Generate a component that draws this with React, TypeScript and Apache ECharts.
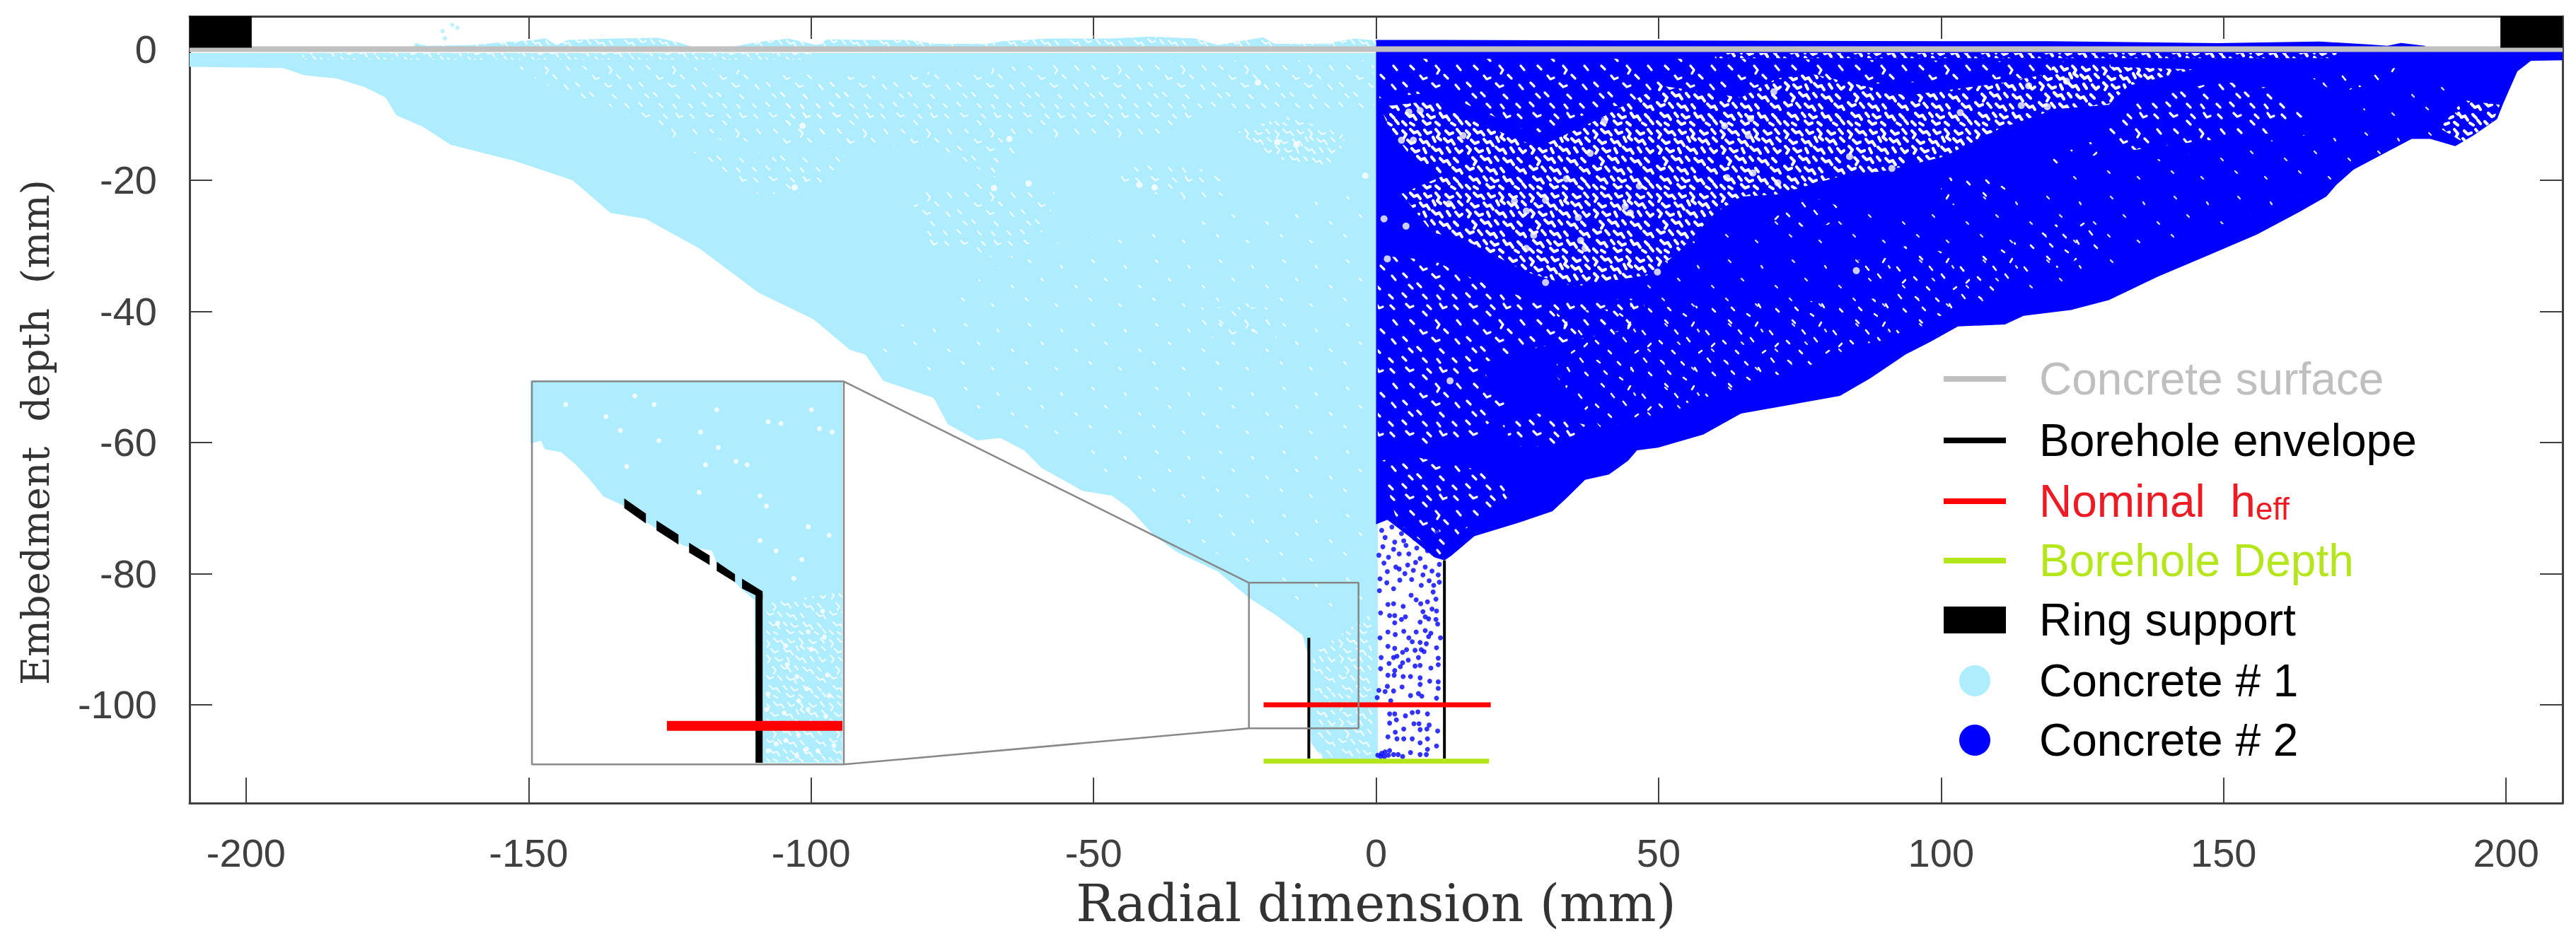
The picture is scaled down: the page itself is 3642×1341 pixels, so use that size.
import React, { useEffect, useRef } from "react";
import * as echarts from "echarts";

const xTicks = [-200, -150, -100, -50, 0, 50, 100, 150, 200];
const yTicks = [0, -20, -40, -60, -80, -100];

const concrete1Outline = [[-210,-0.6],[0.3,-0.6],[0.3,-108.3],[-9.4,-108.3],[-11.5,-105.8],[-12,-92.6],[-13,-89.4],[-17.6,-86.4],[-22.5,-83.7],[-28,-79.7],[-35.3,-76.7],[-39.5,-74],[-43.7,-70],[-46.8,-68.1],[-51.9,-67.4],[-59.2,-63.9],[-62.3,-61.2],[-66.5,-59.3],[-70.6,-59.7],[-75.8,-57.2],[-78.3,-53.2],[-87.2,-50.6],[-90.4,-46.6],[-93.1,-45.9],[-99.6,-41.2],[-109.2,-37.2],[-119.8,-30.4],[-129.3,-25.9],[-135.5,-25],[-142.2,-20],[-152.3,-17.1],[-163.8,-14.6],[-168.6,-11.9],[-173.4,-10.1],[-175.3,-7.4],[-179,-5.8],[-184,-4.5],[-189.6,-4],[-193.5,-2.9],[-210,-2.7]];
const concrete1Fringe = [[-171,0],[-170,0.9],[-168,0.5],[-160,0.6],[-155,1],[-150,1.3],[-147,1.6],[-145,0.6],[-143,1.4],[-135,1.6],[-127,1.7],[-123,0.9],[-121,0.3],[-114,0.3],[-110,1],[-104,1.6],[-99,0.6],[-97,1.5],[-90,1.4],[-83,1.4],[-78,0.8],[-69,0.8],[-66,1.2],[-58,1.6],[-47,1.6],[-40,1.9],[-32,1.6],[-28,0.6],[-20,1.8],[-18,0.8],[-9,0.8],[-4,1.6],[0,1.3],[0,0]];
const concrete2Outline = [[0,-0.4],[210,-0.4],[210,-1.7],[204.4,-1.8],[202,-3.4],[199.6,-8.1],[198.4,-10.7],[194.2,-13.2],[191,-14.8],[186.6,-13.7],[183.3,-13.7],[178.9,-15.7],[173,-18.4],[170,-20.7],[168.2,-22.5],[163.5,-24.8],[155.9,-28.3],[147.2,-31.5],[138.4,-34.7],[129.7,-38.3],[123,-39.8],[114.6,-40.7],[111.3,-42],[103,-42.3],[98,-44.7],[93.7,-46.6],[87.5,-50.2],[82.1,-52.9],[64.6,-55.6],[57.9,-58.8],[49.9,-60.8],[46.2,-61.2],[44.6,-62.8],[41.2,-64.9],[37,-65.7],[33.7,-68.5],[31.2,-70.5],[25.4,-72.2],[17.4,-74.3],[13.3,-77.3],[12.1,-78],[10.3,-77.5],[5.8,-74.3],[2,-71.8],[0,-72.5]];
const concrete2Fringe = [[0,0],[0,1.4],[50,1.3],[100,1.2],[119,1.2],[149,0.9],[167,1.15],[176,0.7],[179,0.5],[181.4,0.93],[185.6,0.5],[186,0]];

const sparseDots2 = [[1,-73.4],[2.8,-72.9],[4.5,-73.9],[6.4,-73.8],[8.1,-75],[10.8,-73.6],[1.6,-74.5],[3.3,-75.2],[4.9,-75],[6.8,-74.6],[1.2,-75.9],[3.1,-76.3],[5.3,-75.7],[7.2,-76.1],[9.1,-76.5],[10.8,-75.4],[0.5,-77.2],[2.2,-77.5],[4.1,-77],[5.8,-77],[7.8,-77.7],[1.4,-78.4],[3.5,-79],[5.6,-78.7],[7,-78.3],[8.7,-79],[11.2,-78.6],[2,-79.7],[4.1,-79.3],[5.1,-80],[6.6,-79.5],[8.3,-80.2],[9.9,-79.6],[11,-80.2],[0.7,-80.8],[1.9,-81.4],[4.2,-81],[6.3,-80.9],[8,-81.8],[9.4,-81.1],[11.2,-81.3],[10.2,-81.8],[0.6,-82.6],[3.1,-82.3],[10.1,-82.8],[6.2,-83.3],[7.1,-84],[9.1,-84.3],[10.6,-83.9],[2.1,-84.7],[3.1,-84.6],[4.8,-85],[7.9,-84.6],[9.9,-85.4],[10.7,-85.7],[8.3,-85.8],[0.8,-86],[2.4,-86.4],[3.3,-86.4],[5.2,-86.6],[4.5,-87],[8.7,-86.6],[9.3,-86.9],[10.6,-87],[7.8,-87.4],[3.3,-87.5],[10.9,-87.7],[2.1,-88.9],[4.9,-88.8],[7.1,-88.9],[8.7,-88.7],[3.4,-89.3],[9.7,-89.1],[9.3,-89.6],[0.7,-89.8],[5.8,-89.8],[11.4,-89.8],[6.4,-90.4],[7.8,-90.5],[8.9,-90.7],[2.1,-91.1],[3.3,-91.4],[10.7,-91.3],[5.4,-91.6],[4.7,-92],[6.9,-91.7],[8,-91.6],[8.5,-91.9],[3.7,-92.6],[3.1,-92.8],[0.9,-92.8],[7.5,-92.8],[5.7,-93.2],[11,-92.9],[2.3,-93.7],[4.7,-93.6],[4.3,-94.2],[6.9,-94.1],[7.8,-94],[9.7,-94.4],[11,-93.9],[0.8,-94.5],[3.3,-94.8],[2.1,-95.5],[3.2,-95.5],[4.8,-95.7],[6.1,-95.7],[7.8,-95.9],[9.5,-96.4],[11,-96.5],[7.8,-96.9],[4.6,-97.3],[2,-97.2],[0.5,-97.8],[1.6,-98],[3.1,-97.9],[11,-97.5],[7.5,-98.3],[6.1,-98.6],[8.1,-98.7],[10.7,-99],[0.2,-98.9],[2.6,-99.4],[2.4,-101.4],[3.3,-101.4],[6.4,-101.2],[7.4,-101.1],[9.1,-101.4],[5.2,-101.7],[3.6,-102.3],[2.4,-102.8],[6.7,-102.9],[7.6,-102.9],[9.4,-103.1],[4.9,-103.7],[7.8,-103.8],[9,-103.7],[10.9,-104],[3.4,-104.2],[2.1,-104.9],[3.7,-105.2],[4.9,-105.2],[6.4,-105.2],[9.1,-105.2],[7.8,-105.8],[10.7,-106.3],[9.1,-106.8],[8.9,-107.6],[7.8,-107.6],[6.1,-107.3],[0.3,-107.7],[1,-107.4],[1.6,-107.2],[2.4,-107],[2.2,-107.7],[3.1,-107.6],[3.9,-107.6],[4.7,-107.9],[0.8,-107.9],[1.5,-107.9]];
const strayPoints1 = [[-163.5,3.67],[-162.6,3.24],[-165.2,2.73],[-164.8,1.65]];

const poreBlobs2 = [[5.8,-9.6],[7.8,-9.4],[15.4,-13.2],[4.5,-13.9],[6.6,-13.9],[24.5,-23.2],[26.6,-24.7],[30,-23.05],[44.1,-24],[45,-25],[35.8,-25.7],[36.2,-29.2],[37,-30.4],[27.9,-28.4],[26.6,-30.4],[13.1,-50.6],[12.9,-23.6],[37.9,-15.9],[33.7,-19.8],[40.4,-11],[46.6,-20.9],[62.1,-19.6],[61.7,-11.7],[2,-32],[1.4,-25.9],[5.3,-27],[49.8,-34],[30,-35.6],[65.9,-13.2],[83.8,-16.4],[115.5,-5.6],[122.2,-4.9],[70.4,-6.5],[71.1,-20.4],[85,-33.8],[66.7,-18.9],[103.4,-9.7],[118.8,-8.8],[91.3,-18.2],[114.2,-8.6],[66.3,-10.6]];
const poreBlobs1 = [[-64.9,-13.7],[-101.5,-11.7],[-20.9,-5.1],[-41.9,-20.7],[-39.2,-21.1],[-67.6,-21.2],[-61.5,-20.5],[-102.9,-21.1],[-17.5,-14.2],[-14.1,-14.6],[-1.9,-19.3]];

const blueHeavyZones = [
  [[0.75,-8.8],[11.2,-7.8],[20.4,-12.1],[28.7,-15],[39.6,-10.6],[50.4,-5.6],[64.6,-7.4],[70.9,-4.5],[77.1,-3.8],[93.8,-7.1],[110.5,-5.2],[123,-3.1],[129.7,-5.6],[118.8,-9.6],[110.5,-12.1],[100.5,-16.4],[90.5,-18.5],[81.3,-19.6],[70.9,-22.2],[64.6,-22.5],[60,-25],[53.7,-30.8],[48.7,-34.4],[35,-36.2],[26.6,-34],[17,-29.7],[9.9,-27.9],[4.5,-22.1],[12,-19.3],[5.8,-16],[2,-11.4]],
  [[119.6,-2.4],[144.5,-3.1],[133.2,-5.6],[129.7,-8.5],[119.6,-9.2]],
  [[188.3,-12.1],[192.4,-7.8],[198.9,-8.5],[197.7,-11],[192.4,-14.2]],
  [[60,-0.6],[170,-0.6],[170,-1.4],[60,-1.4]],
];
const blueMediumZones = [
  [[0.3,-1.5],[64,-1.5],[130,-2],[130,-4],[64.6,-6],[40,-9],[28,-13],[11,-6.5],[0.6,-7.5]],
  [[0.3,-31.5],[9.9,-32.2],[17.4,-35.1],[28.7,-38.7],[47.5,-38],[47.5,-42.3],[26.6,-45.9],[19.5,-47.7],[19.5,-51.3],[23.7,-53.8],[16.2,-60.3],[2,-60.3],[0.3,-60]],
  [[0.75,-62.8],[5.8,-62],[20.4,-64.6],[24.1,-67.8],[19.1,-71.4],[15,-73.6],[11.2,-77.2],[3.7,-72.1]],
  [[22.4,-57.4],[28.7,-55.6],[37.5,-57.4],[32.9,-60.6],[24.5,-60.6]],
  [[128.5,-11.7],[135.6,-7.8],[149.2,-4.9],[158.7,-6],[164,-10.3],[158.7,-12.8],[144.5,-14.2],[131.4,-15.7]],
];
const blueLightZones = [
  [[82.1,-33],[93.8,-30],[109.7,-32.2],[100.1,-35.8],[89.6,-36.2]],
  [[68.8,-25],[77.1,-22.5],[83,-24.3],[80,-26.8],[69.2,-27.5]],
  [[100,-19.6],[112.6,-19.6],[111.3,-22.5],[100,-23.2]],
  [[116.8,-17.5],[128.4,-13.5],[128.4,-16],[118.8,-17.8]],
  [[165.8,-4.5],[184.7,-2.4],[181.8,-4.2],[169.9,-6.7]],
  [[32,-40],[90,-38],[125,-25],[130,-30],[85,-46],[40,-58],[32,-50]],
];
const blueFaintZones = [
  [[45,-36],[60,-27],[100,-24],[130,-18],[165,-13],[190,-3],[195,-10],[165,-22],[120,-36],[90,-44],[65,-52],[45,-58]],
];
const paleMediumZones = [
  [[-24.9,-12.4],[-15.4,-10.3],[-5.3,-13.2],[-7.3,-17.8],[-17.5,-16.8]],
  [[-11.3,-92.3],[-0.7,-86],[-0.7,-108],[-10,-108]],
  [[-171,0.3],[0,0.3],[0,2],[-171,2]],
  [[-190,-0.6],[-100,-0.6],[-100,-1.6],[-190,-1.6]],
];
const paleLightZones = [
  [[-105.6,-6.3],[-92,-4.2],[-64.9,-2.7],[-48,-2],[-31,-1.7],[-0.4,-1.7],[-0.4,-9.2],[-31,-9.2],[-37.8,-13.5],[-61.5,-13.5],[-67.6,-19.6],[-77.1,-15],[-95.4,-14.6],[-105.6,-11.4]],
  [[-45.9,-19.3],[-41.2,-17.1],[-29,-18.6],[-24.9,-22.2],[-34.4,-22.9],[-43.2,-21.4]],
  [[-82.5,-21.8],[-70.3,-20.4],[-56.8,-21.4],[-58.1,-27.2],[-64.9,-32.2],[-79.8,-30.1]],
  [[-152.3,-2.7],[-128.3,-2.4],[-93.1,-4.2],[-93.1,-15],[-109.2,-14.2],[-124.5,-13.5],[-136,-8.5],[-143.7,-7]],
  [[-121.6,-15.7],[-93.9,-16],[-97.7,-21.8],[-109.2,-22.2]],
  [[-31,-39.4],[-17.5,-39.4],[-17.5,-44],[-31,-44]],
];
const paleFaintZones = [
  [[-90,-45],[-60,-30],[-2,-22],[-2,-85],[-12,-85],[-30,-76],[-46,-66],[-68,-57],[-78,-50]],
];

const concreteSurface = [[-210,0],[210,0]];
const boreholeLeft = [[-11.9,-89.8],[-11.9,-108.2]];
const boreholeRight = [[12.1,-78],[12.1,-108.2]];
const nominalHeff = [[-19.9,-100],[20.3,-100]];
const boreholeDepth = [[-19.9,-108.6],[20,-108.6]];
const ringSupports = [
  [[-210,5],[-199,5],[-199,0.2],[-210,0.2]],
  [[199,5],[210,5],[210,0.2],[199,0.2]],
];
const zoomBox = [[-22.5,-81.4],[-3.1,-81.4],[-3.1,-103.6],[-22.5,-103.6],[-22.5,-81.4]];
const insetBox = [[-149.4,-50.7],[-94.2,-50.7],[-94.2,-109.1],[-149.4,-109.1],[-149.4,-50.7]];
const guideTop = [[-94.2,-50.7],[-22.5,-81.4]];
const guideBottom = [[-94.2,-109.1],[-22.5,-103.6]];

const insetXRange = [-26.1, -6.67];
const insetYRange = [-102.2, -80];
const insetConcrete = [[-26.1,-80],[-6.67,-80],[-6.67,-102.2],[-12.08,-102.2],[-12.08,-102.07],[-12.15,-92.75],[-13.03,-92.04],[-14.5,-90.6],[-14.8,-89.89],[-16.56,-89.6],[-18.76,-88.31],[-20.23,-87.31],[-21.55,-86.74],[-22.43,-85.73],[-23.3,-84.87],[-24.2,-84.16],[-25.2,-84],[-25.44,-83.51],[-26.03,-83.65],[-26.1,-83.65]];
const insetPores = [[-23.9,-81.4],[-21.4,-82.1],[-20.5,-82.9],[-19.6,-80.9],[-18.4,-81.4],[-15.5,-83],[-18.1,-83.5],[-14.5,-81.7],[-8.6,-81.7],[-8.1,-82.8],[-7.3,-83],[-11.3,-82.4],[-10.5,-82.5],[-13.3,-84.7],[-15.2,-84.9],[-20.1,-85],[-11.8,-86.7],[-11.4,-87.3],[-8.8,-88.5],[-11.8,-89.3],[-10.8,-89.9],[-9.2,-90.4],[-7.5,-89],[-15.6,-86.5],[-14.4,-83.9],[-12.6,-84.9],[-9.7,-91.5],[-7.9,-93.4],[-10.7,-94.1],[-8.8,-94.6],[-7.8,-94.9],[-10.2,-95.4],[-8.6,-95.6],[-10.1,-96.5],[-9.5,-97.2],[-7.6,-97.1],[-8.9,-97.9],[-9.4,-98.6],[-7.5,-98.3],[-10.3,-99.3],[-8.8,-99.1],[-7.7,-99.5],[-11.3,-98.2],[-11.4,-99.1],[-10.2,-100.9],[-10.8,-101.1],[-9.4,-100.6],[-11.3,-101.5],[-9.5,-101.8],[-8.2,-101.5],[-7.2,-101.2],[-8.9,-101.4]];
const insetPoreZones = [[[-11.4,-92.9],[-6.7,-92.3],[-6.7,-102.2],[-11.4,-102.2]]];
const insetDashes = [
  [[-20.26,-86.85],[-18.91,-87.74],[-18.91,-88.31],[-20.26,-87.42]],
  [[-18.25,-88.14],[-16.88,-88.96],[-16.88,-89.53],[-18.25,-88.71]],
  [[-16.22,-89.43],[-14.94,-90.17],[-14.94,-90.72],[-16.22,-90]],
  [[-14.5,-90.53],[-13.36,-91.25],[-13.36,-91.72],[-14.5,-91.06]],
  [[-12.92,-91.51],[-11.64,-92.25],[-11.64,-92.68],[-12.92,-92.08]],
];
const insetBorehole = [[-11.86,-92.4],[-11.86,-102.2]];
const insetHeff = [[-17.6,-100.06],[-6.67,-100.06]];

const legendNames = ["Concrete surface","Borehole envelope","Nominal heff","Borehole Depth","Ring support","Concrete # 1","Concrete # 2"];
const legendColors = ["#BFBFBF","#000000","#ED1C24","#B5E61D","#000000","#000000","#000000"];

const heavyTile = [[3,5,8,10,5,15],[14,3,19,8,24,6,28,11],[34,4,38,9,43,7],[50,3,55,9,52,14,57,18],[64,5,69,10,74,8],[80,3,85,9],[10,18,15,23,20,21],[28,17,32,22,37,20,41,26],[46,14,49,20],[62,16,67,21,72,18,76,24],[82,15,87,20],[4,27,9,32,6,37],[16,30,21,35,26,33],[33,30,36,36],[45,28,50,33,55,31,59,37],[66,29,70,35],[78,30,83,36,87,33],[12,43,17,48,14,53],[24,41,29,46,34,44,38,50],[44,42,48,47],[56,44,61,49,66,47,70,53],[76,44,81,49],[3,55,8,60,13,58],[20,56,25,62],[32,57,37,62,42,60,46,66],[52,58,56,63],[74,57,79,62,84,60,87,65],[8,70,13,75,18,73,22,79],[28,70,32,75],[38,72,43,77,48,75],[56,70,60,76,65,74,69,80],[76,72,81,77],[3,82,8,87],[14,84,19,87],[32,81,37,86,42,84],[50,83,55,87],[72,84,77,87],[83,80,87,85]];
const mediumTile = [[14,3,19,8],[50,3,55,9,52,14],[80,3,85,9],[28,17,32,22,37,20],[62,16,67,21],[4,27,9,32],[45,28,50,33,55,31],[78,30,83,36],[24,41,29,46],[56,44,61,49],[12,43,17,48],[3,55,8,60],[32,57,37,62],[74,57,79,62],[52,58,56,63],[8,70,13,75,18,73],[38,72,43,77],[56,70,60,76,65,74],[76,72,81,77],[32,81,37,86]];
const lightTile = [[14,3,18,7],[55,6,52,11],[28,17,32,22],[72,18,76,23],[6,32,10,36],[45,28,49,33],[84,36,80,40],[24,46,28,50],[62,49,66,46],[8,60,12,63],[37,62,41,66],[74,57,78,62],[18,75,22,79],[56,70,59,75],[81,77,85,81],[40,84,44,87]];
const faintTile = [[14,8,17,11],[60,16,62,19],[32,34,35,37],[80,44,83,47],[10,62,13,65],[52,70,55,73]];

function makeTile(strokes: number[][], width: number, alpha: number) {
  const canvas = document.createElement("canvas");
  canvas.width = 90;
  canvas.height = 90;
  const ctx = canvas.getContext("2d")!;
  ctx.strokeStyle = `rgba(255,255,255,${alpha})`;
  ctx.lineWidth = width;
  ctx.lineCap = "round";
  ctx.lineJoin = "round";
  strokes.forEach((s) => {
    ctx.beginPath();
    ctx.moveTo(s[0], s[1]);
    for (let i = 2; i < s.length; i += 2) ctx.lineTo(s[i], s[i + 1]);
    ctx.stroke();
  });
  return { image: canvas, repeat: "repeat", imageWidth: 90, imageHeight: 90 };
}

const polySeries = (name: string, polys: number[][][], fill: any, z: number, grid = 0) => ({
  type: "custom",
  name,
  coordinateSystem: "cartesian2d",
  xAxisIndex: grid ? 2 : 0,
  yAxisIndex: grid ? 2 : 0,
  z,
  clip: true,
  silent: true,
  itemStyle: { color: typeof fill === "string" ? fill : "#fff" },
  data: polys.map((p) => p[0]),
  renderItem: (params: any, api: any) => ({
    type: "polygon",
    shape: { points: polys[params.dataIndex].map((p) => api.coord(p)) },
    style: { fill },
  }),
});

const lineSeries = (name: string, data: number[][], color: string, width: number, z: number, grid = 0) => ({
  type: "line",
  name,
  xAxisIndex: grid ? 2 : 0,
  yAxisIndex: grid ? 2 : 0,
  z,
  data,
  showSymbol: false,
  symbol: "none",
  silent: true,
  itemStyle: { color },
  lineStyle: { color, width, cap: "butt" },
});

const dotSeries = (name: string, data: number[][], color: string, size: number, z: number, grid = 0) => ({
  type: "scatter",
  name,
  xAxisIndex: grid ? 2 : 0,
  yAxisIndex: grid ? 2 : 0,
  z,
  data,
  symbolSize: size,
  silent: true,
  itemStyle: { color },
});

export default function App() {
  const ref = useRef<HTMLDivElement>(null);
  useEffect(() => {
    document.body.style.margin = "0";
    const chart = echarts.init(ref.current!, null, { renderer: "svg" });
    const heavy = makeTile(heavyTile, 4.2, 1);
    const medium = makeTile(mediumTile, 3.4, 1);
    const light = makeTile(lightTile, 2.6, 1);
    const faint = makeTile(faintTile, 2.4, 0.85);
    const paleMedium = makeTile(heavyTile, 2.4, 0.8);
    const paleLight = makeTile(mediumTile, 2.4, 0.8);
    const axisColor = "#404040";
    const labelFont = { fontFamily: "Liberation Sans", fontSize: 56, color: "#404040" };
    const serifName = { fontFamily: "DejaVu Serif", color: "#333333" };
    const legendIconY = [536, 623, 709, 793, 877, 963, 1047];
    const legendIconH = [8, 8, 8, 8, 38, 44, 44];
    chart.setOption({
      animation: false,
      backgroundColor: "#ffffff",
      grid: [
        { left: 268, top: 23, width: 3355, height: 1113, show: false },
        { left: 750, top: 538, width: 441, height: 541, show: false },
      ],
      xAxis: [
        {
          type: "value", gridIndex: 0, position: "bottom", min: -210, max: 210,
          name: "Radial dimension (mm)", nameLocation: "middle", nameGap: 106, nameTextStyle: { ...serifName, fontSize: 72 },
          axisLine: { onZero: false, lineStyle: { color: axisColor, width: 3 } },
          axisTick: { inside: true, length: 36, customValues: xTicks, lineStyle: { color: axisColor, width: 2 } },
          axisLabel: { customValues: xTicks, margin: 42, ...labelFont },
          splitLine: { show: false },
        },
        {
          type: "value", gridIndex: 0, position: "top", min: -210, max: 210,
          axisLine: { onZero: false, lineStyle: { color: axisColor, width: 3 } },
          axisTick: { inside: true, length: 32, customValues: xTicks, lineStyle: { color: axisColor, width: 2 } },
          axisLabel: { show: false },
          splitLine: { show: false },
        },
        { type: "value", gridIndex: 1, min: insetXRange[0], max: insetXRange[1], show: false, splitLine: { show: false } },
      ],
      yAxis: [
        {
          type: "value", gridIndex: 0, position: "left", min: -115, max: 5,
          name: "Embedment  depth  (mm)", nameLocation: "middle", nameGap: 191, nameRotate: 90,
          nameTextStyle: { ...serifName, fontSize: 55, padding: [0, 64, 0, 0] },
          axisLine: { onZero: false, lineStyle: { color: axisColor, width: 3 } },
          axisTick: { inside: true, length: 32, customValues: yTicks, lineStyle: { color: axisColor, width: 2 } },
          axisLabel: { customValues: yTicks, margin: 46, ...labelFont },
          splitLine: { show: false },
        },
        {
          type: "value", gridIndex: 0, position: "right", min: -115, max: 5,
          axisLine: { onZero: false, lineStyle: { color: axisColor, width: 3 } },
          axisTick: { inside: true, length: 32, customValues: yTicks, lineStyle: { color: axisColor, width: 2 } },
          axisLabel: { show: false },
          splitLine: { show: false },
        },
        { type: "value", gridIndex: 1, min: insetYRange[0], max: insetYRange[1], show: false, splitLine: { show: false } },
      ],
      legend: legendNames.map((name, i) => ({
        show: true,
        left: i < 5 ? 2748 : 2770,
        top: legendIconY[i] - 32,
        padding: 0,
        orient: "vertical",
        selectedMode: false,
        itemWidth: 88,
        itemHeight: legendIconH[i],
        data: [{ name, icon: i < 5 ? "rect" : "circle" }],
        formatter: i === 2 ? () => "Nominal  h{sub|eff}" : undefined,
        textStyle: {
          fontFamily: "Liberation Sans",
          fontSize: 64,
          color: legendColors[i],
          padding: [0, 0, 0, 42],
          rich: { sub: { fontFamily: "Liberation Sans", fontSize: 44, color: legendColors[i], verticalAlign: "bottom", lineHeight: 60 } },
        },
      })),
      series: [
        polySeries("Concrete # 1", [concrete1Outline, concrete1Fringe], "#AEECFF", 2),
        polySeries("pale medium pores", paleMediumZones, paleMedium, 3),
        polySeries("pale light pores", paleLightZones, paleLight, 3),
        polySeries("pale faint pores", paleFaintZones, faint, 3),
        dotSeries("pale blobs", poreBlobs1, "#ffffff", 9, 4),
        dotSeries("stray concrete 1", strayPoints1, "#AEECFF", 6, 4),
        polySeries("Concrete # 2", [concrete2Outline, concrete2Fringe], "#0000FF", 2),
        polySeries("blue heavy pores", blueHeavyZones, heavy, 3),
        polySeries("blue medium pores", blueMediumZones, medium, 3),
        polySeries("blue light pores", blueLightZones, light, 3),
        polySeries("blue faint pores", blueFaintZones, faint, 3),
        dotSeries("blue blobs", poreBlobs2, "#ffffff", 10, 4),
        dotSeries("Concrete # 2 sparse", sparseDots2, "#0000FF", 7, 5),
        lineSeries("Concrete surface", concreteSurface, "#C0C0C0", 8, 6),
        polySeries("Ring support", ringSupports, "#000000", 7),
        lineSeries("Borehole envelope", boreholeLeft, "#000000", 4, 7),
        lineSeries("Borehole envelope", boreholeRight, "#000000", 4, 7),
        lineSeries("Nominal heff", nominalHeff, "#FF0000", 7, 7),
        lineSeries("Borehole Depth", boreholeDepth, "#B2E61A", 7, 7),
        lineSeries("zoom box", zoomBox, "#888888", 2.5, 8),
        lineSeries("guide top", guideTop, "#888888", 2.5, 8),
        lineSeries("guide bottom", guideBottom, "#888888", 2.5, 8),
        polySeries("inset concrete", [insetConcrete], "#AEECFF", 9, 1),
        polySeries("inset pores", insetPoreZones, paleMedium, 10, 1),
        dotSeries("inset blobs", insetPores, "#ffffff", 7, 10, 1),
        polySeries("inset dashes", insetDashes, "#000000", 11, 1),
        lineSeries("inset borehole", insetBorehole, "#000000", 10, 11, 1),
        lineSeries("inset heff", insetHeff, "#FF0000", 14, 12, 1),
        lineSeries("inset box", insetBox, "#888888", 2.5, 13),
      ],
    });
    return () => chart.dispose();
  }, []);
  return <div ref={ref} style={{ position: "fixed", left: 0, top: 0, width: 3642, height: 1341 }} />;
}
